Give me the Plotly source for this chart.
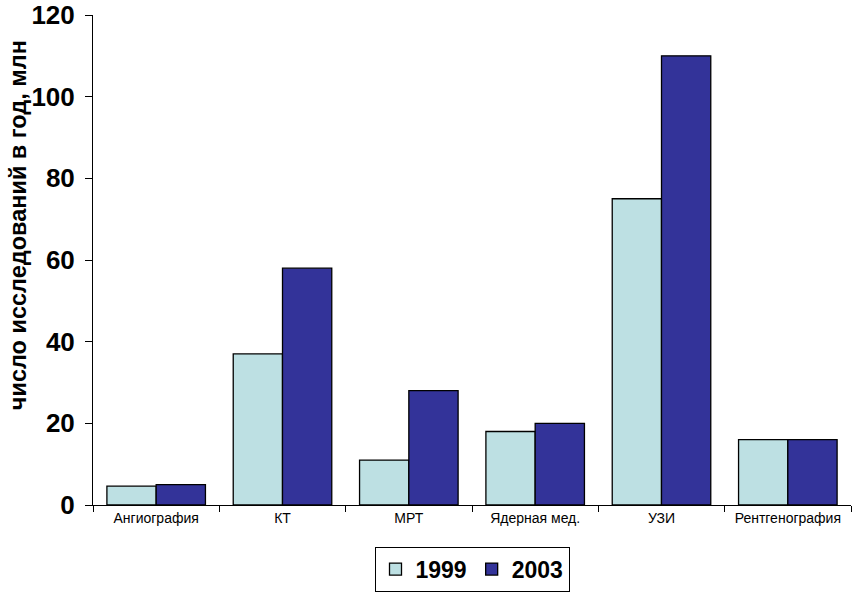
import plotly.graph_objects as go

categories = ["Ангиография", "КТ", "МРТ", "Ядерная мед.", "УЗИ", "Рентгенография"]
values_1999 = [4.6, 37, 11, 18, 75, 16]
values_2003 = [5, 58, 28, 20, 110, 16]
y_ticks = [0, 20, 40, 60, 80, 100, 120]
y_title = "число исследований в год, млн"

fig = go.Figure()
fig.add_trace(go.Bar(name="1999", x=categories, y=values_1999,
                     marker=dict(color="#BDE0E3", line=dict(color="black", width=1.3))))
fig.add_trace(go.Bar(name="2003", x=categories, y=values_2003,
                     marker=dict(color="#333399", line=dict(color="black", width=1.3))))

fig.update_layout(
    width=855, height=597,
    margin=dict(l=93, r=4, t=15, b=92, autoexpand=False),
    paper_bgcolor="white", plot_bgcolor="white",
    barmode="group", bargap=0.22, bargroupgap=0,
    font=dict(family="Liberation Sans, Arial", color="black"),
    showlegend=True,
    legend=dict(orientation="h", x=0.5, xanchor="center", y=-0.085, yanchor="top",
                font=dict(size=23, family="Liberation Sans, Arial", weight="bold"),
                bordercolor="black", borderwidth=1, itemwidth=30,
                traceorder="normal"),
    annotations=[dict(text=y_title, textangle=-90, xref="paper", yref="paper",
                      x=-0.099, y=0.571, xanchor="center", yanchor="middle",
                      showarrow=False, font=dict(size=23.5, weight="bold"))],
)
fig.update_xaxes(showline=True, linecolor="black", linewidth=1, automargin=False,
                 ticks="outside", tickson="boundaries", ticklen=6, tickcolor="black",
                 tickfont=dict(size=14), showgrid=False)
fig.update_yaxes(range=[0, 120], tickvals=y_ticks, showline=True, linecolor="black", linewidth=1,
                 automargin=False, ticklabelstandoff=5, ticklabeloverflow="allow",
                 ticks="outside", ticklen=7, tickcolor="black", showgrid=False, zeroline=False,
                 tickfont=dict(size=26, weight="bold"))

fig.write_html("out.html", config={"displayModeBar": False},
               post_script="document.body.style.margin='0';document.body.style.overflow='hidden';")
